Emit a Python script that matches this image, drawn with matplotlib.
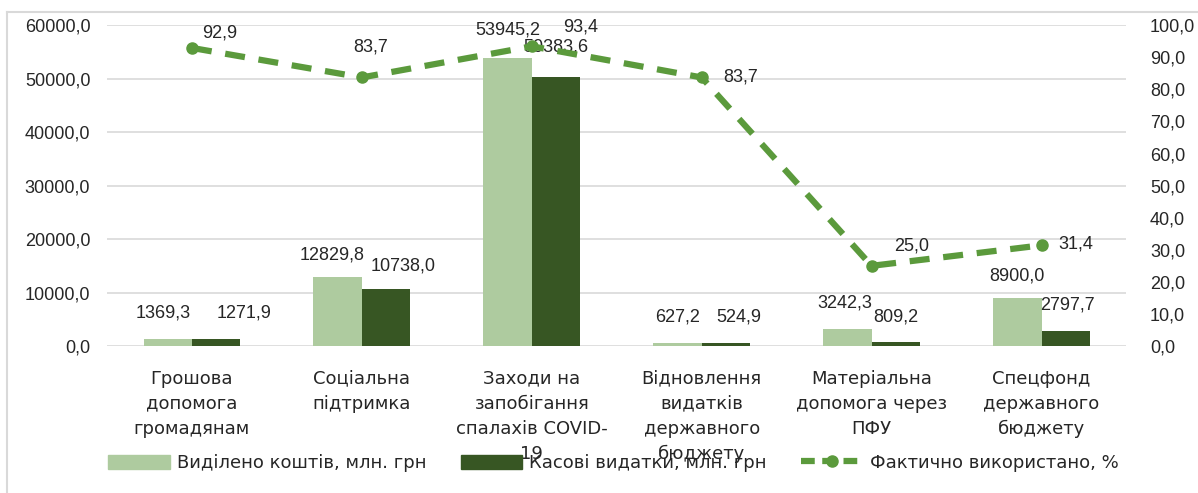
import numpy as np
import matplotlib.pyplot as plt
from matplotlib.lines import Line2D

plt.rcParams["font.family"] = ["Liberation Sans", "DejaVu Sans"]

# Data
categories = [
    "Грошова\nдопомога\nгромадянам",
    "Соціальна\nпідтримка",
    "Заходи на\nзапобігання\nспалахів COVID-\n19",
    "Відновлення\nвидатків\nдержавного\nбюджету",
    "Матеріальна\nдопомога через\nПФУ",
    "Спецфонд\nдержавного\nбюджету",
]
allocated = [1369.3, 12829.8, 53945.2, 627.2, 3242.3, 8900.0]
spent = [1271.9, 10738.0, 50383.6, 524.9, 809.2, 2797.7]
used_pct = [92.9, 83.7, 93.4, 83.7, 25.0, 31.4]

light = "#AECB9F"
dark = "#375623"
line_c = "#5B9A3C"
txt = "#262626"

fig = plt.figure(figsize=(11.98, 4.93), dpi=100)
ax = fig.add_axes([0.0893, 0.298, 0.851, 0.651])
ax2 = ax.twinx()

x = np.arange(len(categories))
w = 0.285
ax.bar(x - w / 2, allocated, w, color=light, zorder=2)
ax.bar(x + w / 2, spent, w, color=dark, zorder=2)


def fmt(v):
    return f"{v:.1f}".replace(".", ",")


ax.set_xlim(-0.5, len(categories) - 0.5)
ax.set_ylim(0, 60000)
ax.set_yticks(np.arange(0, 60001, 10000))
ax.set_yticklabels([fmt(v) for v in np.arange(0, 60001, 10000)])
ax.yaxis.grid(True, color="#D9D9D9", linewidth=1.2, zorder=0)
ax.set_axisbelow(True)
ax.set_xticks(x)
ax.set_xticklabels(categories, linespacing=1.5, fontsize=13, color=txt, va="top",
                   family="DejaVu Sans")
for s in ["top", "right", "left", "bottom"]:
    ax.spines[s].set_visible(False)
    ax2.spines[s].set_visible(False)
ax.tick_params(axis="both", length=0, labelsize=13, labelcolor=txt)
ax.tick_params(axis="x", pad=17)
ax.tick_params(axis="y", pad=12)

ax2.plot(x, used_pct, color=line_c, linewidth=4.5, linestyle=(0, (3.2, 2.2)),
         marker="o", markersize=8, zorder=3)
ax2.set_ylim(0, 100)
ax2.set_yticks(np.arange(0, 101, 10))
ax2.set_yticklabels([fmt(v) for v in np.arange(0, 101, 10)])
ax2.tick_params(axis="y", length=0, labelsize=13, labelcolor=txt, pad=17)

# label offsets in points (dx, dy)
off_a = [(-3.5, 18.7), (-4, 16), (0, 20), (0, 18.7), (-2, 18.7), (0, 16.5)]
off_s = [(20, 18.7), (12, 16), (0, 21), (9, 18.7), (0, 18), (1.5, 18.7)]
off_p = [(20, 11), (6.5, 22), (35, 14), (28, 0), (29, 14), (25, 1)]
for i in range(len(categories)):
    ax.annotate(fmt(allocated[i]), (x[i] - w / 2, allocated[i]), xytext=off_a[i],
                textcoords="offset points", ha="center", va="center", fontsize=13, color=txt)
    ax.annotate(fmt(spent[i]), (x[i] + w / 2, spent[i]), xytext=off_s[i],
                textcoords="offset points", ha="center", va="center", fontsize=13, color=txt)
    ax2.annotate(fmt(used_pct[i]), (x[i], used_pct[i]), xytext=off_p[i],
                 textcoords="offset points", ha="center", va="center", fontsize=13, color=txt)

handles = [
    plt.Rectangle((0, 0), 1, 1, color=light),
    plt.Rectangle((0, 0), 1, 1, color=dark),
    Line2D([], [], color=line_c, linewidth=4.5, linestyle=(0, (2.2, 1.2)),
           marker="o", markersize=8),
]
labels = ["Виділено коштів, млн. грн", "Касові видатки, млн. грн", "Фактично використано, %"]
fig.legend(handles, labels, loc="center", bbox_to_anchor=(0.512, 0.061), ncol=3,
           frameon=False, prop={"family": "DejaVu Sans", "size": 13},
           handlelength=3.4, handleheight=0.8,
           handletextpad=0.4, columnspacing=1.9, labelcolor=txt)

# outer chart border (top and left visible)
fig.add_artist(Line2D([7 / 1198, 1.0], [1 - 12 / 493, 1 - 12 / 493],
                      transform=fig.transFigure, color="#D9D9D9", linewidth=1.5))
fig.add_artist(Line2D([7 / 1198, 7 / 1198], [0, 1 - 12 / 493],
                      transform=fig.transFigure, color="#D9D9D9", linewidth=1.5))

fig.savefig("out.png", dpi=100)
